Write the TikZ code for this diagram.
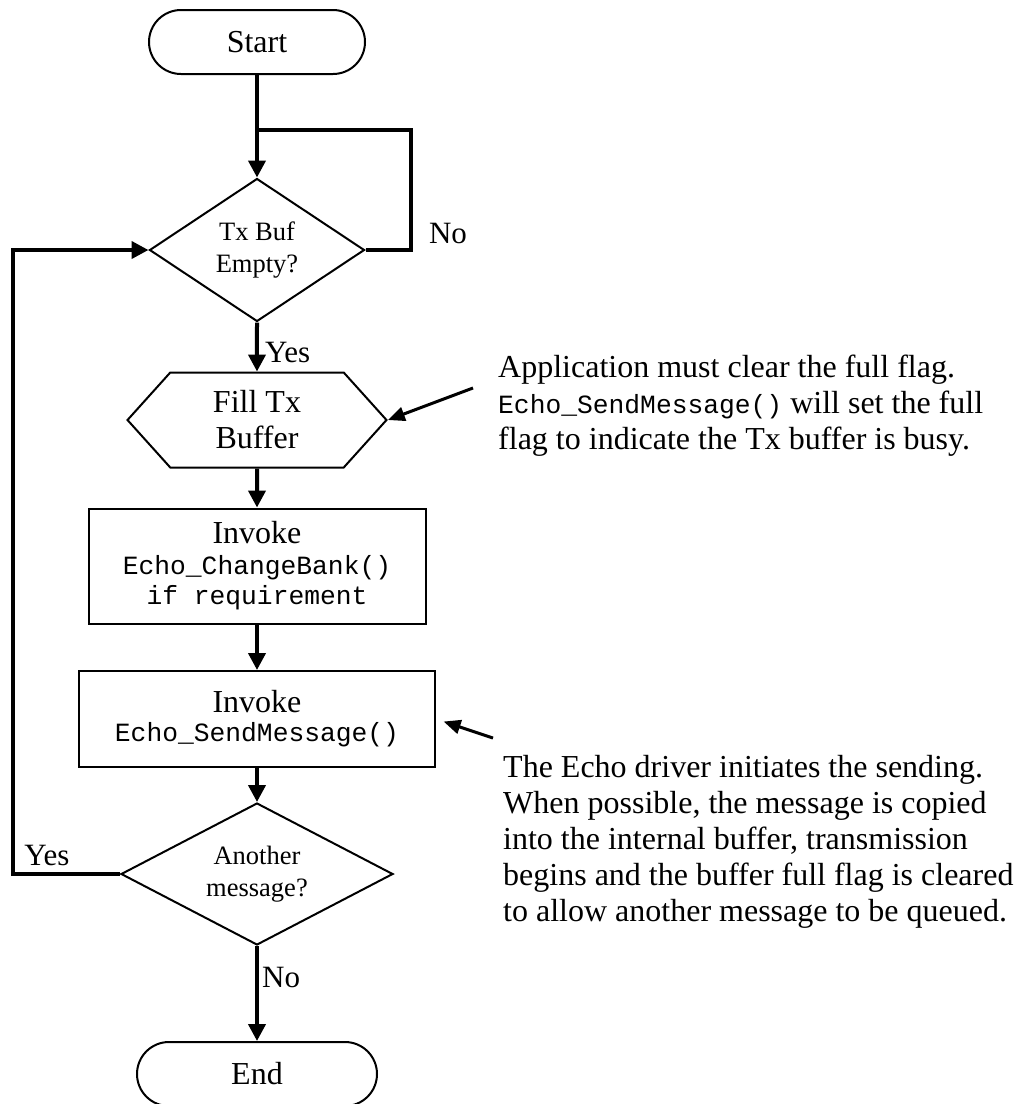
\documentclass[tikz,border=0pt]{standalone}
\usepackage{fontspec}
\setmainfont{Liberation Serif}
\setmonofont{Liberation Mono}
\usetikzlibrary{arrows.meta,shapes.geometric,shapes.symbols}
\newcommand{\mainsize}{\fontsize{32}{36}\selectfont}
\newcommand{\decsize}{\fontsize{26.5}{32}\selectfont}
\newcommand{\codesize}{\fontsize{26.3}{31}\selectfont\ttfamily}
\begin{document}
\begin{tikzpicture}[x=1pt, y=-1pt,
		flow/.style={line width=4pt, -{Triangle[length=17pt,width=17pt]}},
		loopline/.style={line width=4pt},
		notearrow/.style={line width=3pt, -{Triangle[length=17pt,width=14pt]}},
		terminal/.style={draw, line width=2pt, rounded corners=32pt, minimum height=64pt, font=\mainsize},
		decision/.style={draw, line width=2pt, diamond, inner sep=0pt, align=center, font=\decsize},
		process/.style={draw, line width=2pt, rectangle, inner sep=0pt, align=center, font=\mainsize},
		branch/.style={font=\fontsize{31}{36}\selectfont, inner sep=0pt},
		note/.style={font=\mainsize, align=left, inner sep=0pt, anchor=north west}]
			\useasboundingbox (0,0) rectangle (1016,1104);
			% flow chart boxes
			\node[terminal, minimum width=216pt] (start) at (257,42) {Start};
			\node[decision, minimum width=215pt, minimum height=143pt, shape aspect=1.5] (txbuf) at (257,250) {Tx Buf\\Empty?};
			\node[draw, line width=2pt, signal, signal to=east and west, signal pointer angle=96,
				minimum width=259pt, minimum height=95pt, inner sep=0pt, align=center, font=\mainsize] (fill) at (257,420) {Fill Tx\\Buffer};
			\node[process, minimum width=337pt, minimum height=115pt] (bank) at (257,566)
				{Invoke\\[-5pt]{\codesize Echo\_ChangeBank()}\\[-6pt]{\codesize if requirement}};
			\node[process, minimum width=356pt, minimum height=96pt] (send) at (257,719)
				{Invoke\\[-7pt]{\codesize Echo\_SendMessage()}};
			\node[decision, minimum width=272pt, minimum height=142pt, shape aspect=1.9] (more) at (257,874) {Another\\message?};
			\node[terminal, minimum width=240pt] (end) at (257,1074) {End};
			% arrows down
			\draw[flow] (start) -- (txbuf);
			\draw[flow] (txbuf) -- (fill);
			\draw[flow] (fill) -- (bank);
			\draw[flow] (bank) -- (send);
			\draw[flow] (send) -- (more);
			\draw[flow] (more) -- (end);
			% wait loop and repeat loop
			\coordinate (join) at (257,130);
			\coordinate (waitturn) at (411,130);
			\draw[loopline] (txbuf.east) -- (waitturn |- txbuf.east) -- (waitturn) -- (join);
			\coordinate (backturn) at (13,874);
			\draw[flow] (more.west) -- (backturn) -- (backturn |- txbuf.west) -- (txbuf.west);
			% labels
			\node[branch] (nowait) at (448,233) {No};
			\node[branch, anchor=west] (yesfill) at (265,352) {Yes};
			\node[branch] (yesmore) at (47,855) {Yes};
			\node[branch, anchor=west] (noend) at (262,977) {No};
			% notes on the right
			\node[note] (fillnote) at (498,355) {Application must clear the full flag.\\
				{\codesize Echo\_SendMessage()} will set the full\\
				flag to indicate the Tx buffer is busy.};
			\coordinate (filltail) at (473,388);
			\draw[notearrow] (filltail) -- (fill.east);
			\node[note] (sendnote) at (503,755) {The Echo driver initiates the sending.\\
				When possible, the message is copied\\
				into the internal buffer, transmission\\
				begins and the buffer full flag is cleared\\
				to allow another message to be queued.};
			\coordinate (sendtail) at (493,738);
			\draw[notearrow, shorten >=8pt] (sendtail) -- (send.east);
		\end{tikzpicture}
\end{document}
